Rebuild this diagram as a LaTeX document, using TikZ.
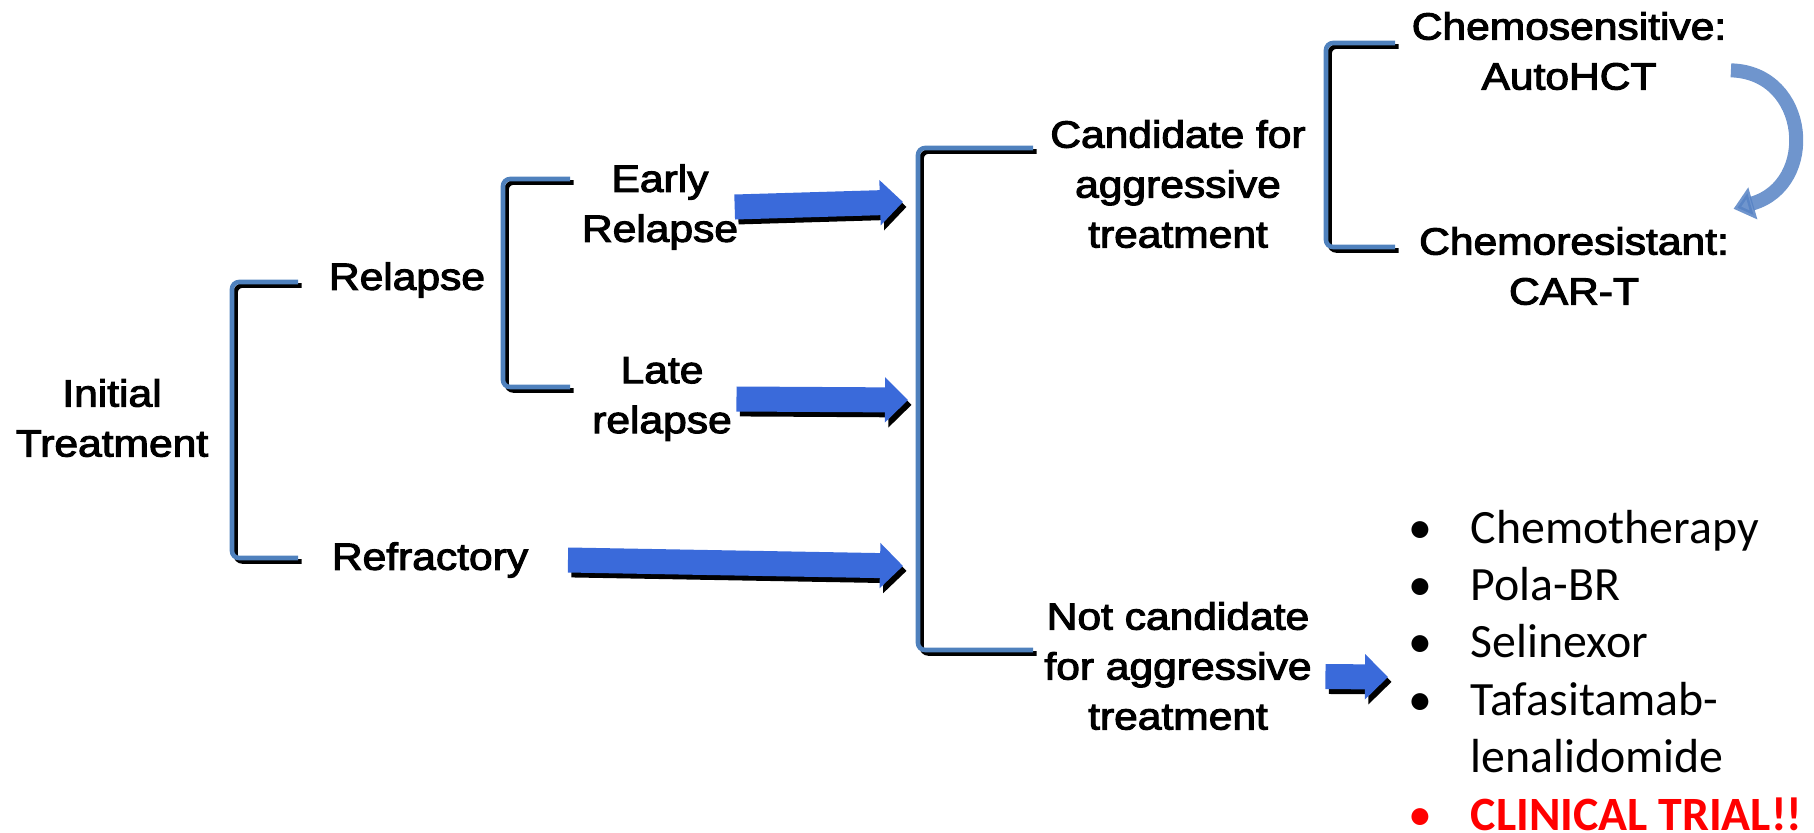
\documentclass[tikz,border=0pt]{standalone}
\usepackage{fontspec}
\setmainfont{Liberation Sans}[FakeBold=2.6]
\newfontfamily\calibri{Carlito}
\usetikzlibrary{arrows.meta}

\definecolor{bracketblue}{RGB}{79,129,189}
\definecolor{arrowblue}{RGB}{58,106,218}
\definecolor{curveblue}{RGB}{86,130,196}
\definecolor{trialred}{RGB}{255,0,0}

\tikzset{
  lbl/.style={align=center, inner sep=1pt, font=\fontsize{10.8}{14.2}\selectfont, xscale=1.12},
  bracketline/.style={draw=bracketblue, line width=1.3pt, rounded corners=2pt,
    preaction={draw=black, line width=1.3pt, transform canvas={xshift=1pt,yshift=-1pt}}},
  blockarrow/.style={draw=arrowblue, line width=0.25cm, -{Triangle[width=0.44cm,length=0.23cm]},
    preaction={draw=black, line width=0.25cm, transform canvas={xshift=1pt,yshift=-1.4pt}}},
  curvearrow/.style={draw=curveblue, opacity=0.85, line width=0.14cm, -{Triangle[width=0.32cm,length=0.2cm]}},
  listitem/.style={anchor=base west, inner sep=0pt, font=\calibri\fontsize{13.6}{16}\selectfont},
}

\begin{document}
\begin{tikzpicture}[x=0.01cm,y=-0.01cm]
  \useasboundingbox (0,0) rectangle (1814,833);

  % first column
  \node[lbl] (nInitial) at (112,418) {Initial\\Treatment};
  \node[lbl] (nRelapse) at (407,280) {Relapse};
  \node[lbl] (nRefract) at (430,560) {Refractory};
  \node[lbl] (nEarly) at (660,207) {Early\\Relapse};
  \node[lbl] (nLate) at (662,399) {Late\\relapse};

  % second column
  \node[lbl] (nCand) at (1178,184) {Candidate for\\aggressive\\treatment};
  \node[lbl] (nNotCand) at (1178,666) {Not candidate\\for aggressive\\treatment};
  \node[lbl] (nSens) at (1569,51) {Chemosensitive:\\AutoHCT};
  \node[lbl] (nResist) at (1574,266) {Chemoresistant:\\CAR-T};

  % options list
  \foreach \name/\txt/\yy in {nChemo/Chemotherapy/543,nPola/Pola-BR/600,nSelin/Selinexor/657,nTafa/Tafasitamab-/715}{
    \node[listitem] (b\name) at (1408,\yy) {•};
    \node[listitem] (\name) at (1470,\yy) {\txt};
  }
  \node[listitem] (nLenal) at (1470,772) {lenalidomide};
  \node[listitem, text=trialred] (bnTrial) at (1408,830) {•};
  \node[listitem, text=trialred, font=\calibri\bfseries\fontsize{13.6}{16}\selectfont] (nTrial) at (1470,830) {CLINICAL TRIAL!!};

  % brackets
  \foreach \x/\top/\bot/\ends in {232/282/558/298,503/179/387/570,918/148/650/1033,1326/43/247/1395}
    \draw[bracketline] (\ends,\top) -| (\x,\bot) -- (\ends,\bot);

  % block arrows
  \coordinate (tEarly) at (903,202);
  \coordinate (tLate) at (908,400);
  \coordinate (tRefract) at (903,566);
  \coordinate (tList) at (1388,677);
  \draw[blockarrow] ([xshift=-2.3pt]nEarly.east) -- (tEarly);
  \draw[blockarrow] (nLate.east) -- (tLate);
  \draw[blockarrow] ([xshift=10pt]nRefract.east) -- (tRefract);
  \draw[blockarrow] ([xshift=2.6pt,yshift=-3pt]nNotCand.east) -- (tList);

  % sensitive to resistant
  \draw[curvearrow] ([yshift=-5.5pt]nSens.east) .. controls +(78,2) and +(85,-24) .. ([yshift=4pt]nResist.north east);
\end{tikzpicture}
\end{document}
